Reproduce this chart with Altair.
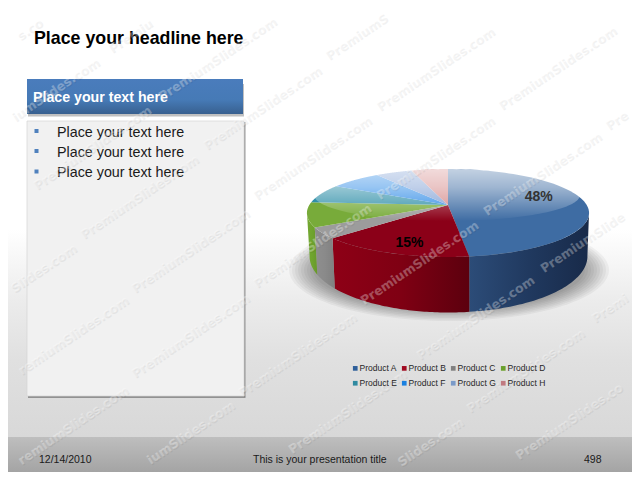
import numpy as np
import pandas as pd
import altair as alt

# ---- chart values
products = ["Product A", "Product B", "Product C", "Product D", "Product E", "Product F", "Product G", "Product H"]
shares = [48, 15, 4, 9, 7, 7, 5, 5]
top_colors = ["#3e6ca3", "#8b0018", "#9c9c9c", "#78ab3a", "#2f8fa8", "#2f8be6", "#7f9fd4", "#d48a8a"]
legend_colors = ["#2f5f9a", "#a00a20", "#808080", "#6aa02c", "#2f8aa0", "#1a80e0", "#7a9ac8", "#c07a80"]
wall_colors = {
    "Product A": ["#2c4c78", "#20395f", "#182a49"],
    "Product B": ["#8e0016", "#7f0013", "#5c000e"],
    "Product C": ["#8f8f8f", "#8a8a8a", "#808080"],
    "Product D": ["#74a832", "#6fa42e", "#68982a"],
}
labelled = {"Product A": ("48%", "#333333", 0.66, -6), "Product B": ("15%", "#000000", 0.72, 5)}

headline = "Place your headline here"
panel_title = "Place your text here"
bullets = ["Place your text here"] * 3
footer_date = "12/14/2010"
footer_title = "This is your presentation title"
footer_page = "498"
watermark = "PremiumSlides.com"
watermark_em = [.733, .493, .678, 1.042, .343, .712, 1.042, .72, .343, .343, .716, .678, .595, .38, .593, .687, 1.042]
watermark_starts = [
    (-63, 92), (-17, 139), (35, 187), (110, 50), (160, 98), (82, 236), (205, 147), (-87, 279), (-40, 325),
    (133, 290), (255, 197), (327, 57), (280, 10), (378, 108), (500, 107), (500, 20), (378, 197), (485, 213),
    (607, 127), (362, 302), (255, 285), (542, 270), (593, 320), (517, 457), (393, 545), (347, 499), (240, 394),
    (418, 357), (468, 410), (12, 377), (133, 375), (12, 467), (118, 482), (290, 451), (173, 537),
]

# ---- shared pixel-like scales (the page margin takes 8px off every side)
L, T, RR, B = 8, 8, 632, 472
X = alt.X("x:Q", scale=alt.Scale(domain=[L, RR], nice=False, zero=False), axis=None)
X2 = alt.X2("x2:Q")
Y = alt.Y("y:Q", scale=alt.Scale(domain=[B, T], nice=False, zero=False), axis=None)
Y2 = alt.Y2("y2:Q")


def vgrad(*stops):
    return alt.Gradient(gradient="linear", x1=0, x2=0, y1=0, y2=1,
                        stops=[alt.GradientStop(offset=o, color=c) for o, c in stops])


def hgrad(cols):
    n = len(cols) - 1
    return alt.Gradient(gradient="linear", x1=0, x2=1, y1=0, y2=0,
                        stops=[alt.GradientStop(offset=i / n, color=c) for i, c in enumerate(cols)])


def box(x, x2, y, y2, **mark):
    d = pd.DataFrame({"x": [x], "x2": [x2], "y": [y], "y2": [y2]})
    return alt.Chart(d).mark_rect(**mark).encode(x=X, x2=X2, y=Y, y2=Y2)


def label(t, x, y, **mark):
    d = pd.DataFrame({"x": [x], "y": [y], "t": [t]})
    mark.setdefault("font", "Liberation Sans")
    mark.setdefault("align", "left")
    mark.setdefault("baseline", "middle")
    return alt.Chart(d).mark_text(**mark).encode(x=X, y=Y, text="t:N")


# ---- tilted pie projection
CX, CY, R, PA, PB = 448.0, 205.0, 138.7, 42.5, 0.1818
SX, SY, BX, BY = 0.985, 1.28, 448.5, 246.0


def top_xy(theta, f=1.0):
    u, v = f * np.sin(theta), f * np.cos(theta)
    d = 1 + PB * v
    return CX + R * u / d, CY - PA * v / d


def bottom_xy(theta):
    x, y = top_xy(theta)
    return BX + SX * (x - CX), BY + SY * (y - CY)


def polygon(xs, ys, **extra):
    d = pd.DataFrame({"x": xs, "y": ys})
    d["i"] = np.arange(len(d))
    for k, v in extra.items():
        d[k] = v
    return d


cum = np.cumsum([0] + shares) / sum(shares) * 2 * np.pi
starts, ends = cum[:-1], cum[1:]

layers = []

# background and footer
layers.append(box(L, RR, T, 437, fill=vgrad((0, "#ffffff"), (0.517, "#ffffff"), (0.68, "#ececec"), (0.82, "#e0e0e0"), (1, "#d8d8d8"))))
layers.append(box(L, RR, 437, B, fill=vgrad((0, "#bebebe"), (1, "#a4a4a4"))))

# panel
layers.append(box(28, 245.5, 122, 398, fill="#808080", opacity=0.8))
layers.append(box(27, 244, 121, 396, fill="#f1f1f1", stroke="#d4d4d4", strokeWidth=0.7))
layers.append(box(28, 244, 84, 116.5, fill="#8c8c8c", opacity=0.55))
layers.append(box(27, 243, 79, 114, fill=vgrad((0, "#4a7cbc"), (0.6, "#467ab6"), (1, "#38608f"))))

# soft pie shadow: nested translucent ellipses
t = np.radians(np.arange(0, 360, 3))
for k in range(9):
    sh = polygon(449 + (160 - 3 * k) * np.cos(t), 270 + (51 - 1.5 * k) * np.sin(t))
    layers.append(alt.Chart(sh).mark_line(filled=True, strokeWidth=0, fill="#000000", opacity=0.045)
                  .encode(x=X, y=Y, order="i:Q"))

# walls, from silhouette to silhouette
for name, a, b in zip(products, starts, ends):
    if name not in wall_colors:
        continue
    lo, hi = max(a, np.radians(100)), min(b, np.radians(260))
    th = np.linspace(lo, hi, 60)
    tx, ty = top_xy(th)
    bx, by = bottom_xy(th)
    d = polygon(np.r_[tx, bx[::-1]], np.r_[ty, by[::-1]])
    layers.append(alt.Chart(d).mark_line(filled=True, strokeWidth=0, fill=hgrad(wall_colors[name])).encode(x=X, y=Y, order="i:Q"))

# top surface, one polygon per product
rows = []
for name, a, b in zip(products, starts, ends):
    th = np.linspace(a, b, 80)
    px, py = top_xy(th)
    rows.append(polygon(np.r_[CX, px], np.r_[CY, py], product=name))
top = pd.concat(rows)
layers.append(alt.Chart(top).mark_line(filled=True, strokeWidth=0).encode(
    x=X, y=Y, order="i:Q",
    color=alt.Color("product:N",
                    scale=alt.Scale(domain=products, range=top_colors),
                    legend=None),
))

# gloss on the back of the pie
t = np.radians(np.arange(0, 360, 2))
gl = polygon(447 + 133 * np.cos(t), 195 + 26 * np.sin(t))
layers.append(alt.Chart(gl).mark_line(filled=True, strokeWidth=0,
    fill=vgrad((0, "#ffffffb0"), (0.35, "#ffffff80"), (1, "#ffffff00"))).encode(x=X, y=Y, order="i:Q"))

# legend carried by a zero-size point layer
leg = pd.DataFrame({"product": products, "x": 360.0, "y": 370.0})
layers.append(alt.Chart(leg).mark_square(size=0, opacity=1).encode(
    x=X, y=Y,
    color=alt.Color("product:N", scale=alt.Scale(domain=products, range=legend_colors),
                    legend=alt.Legend(orient="none", legendX=343, legendY=356, columns=4, title=None,
                                      direction="horizontal",
                                      symbolType="square", symbolSize=22, symbolStrokeWidth=0,
                                      labelFont="Liberation Sans", labelFontSize=8.5, labelColor="#262626",
                                      labelOffset=0, columnPadding=3, rowPadding=6, padding=0)),
))

# percent labels
for name, a, b in zip(products, starts, ends):
    if name in labelled:
        txt, col, f, dy = labelled[name]
        lx, ly = top_xy((a + b) / 2, f)
        layers.append(label(txt, float(lx), float(ly) + dy, fontSize=14, fontWeight="bold", color=col, align="center"))

# slide text
layers.append(label(headline, 34, 38.5, fontSize=17.8, fontWeight="bold", color="#000000"))
layers.append(label(panel_title, 33, 97.5, fontSize=14.2, fontWeight="bold", color="#ffffff"))
for i, b in enumerate(bullets):
    y = 132.5 + i * 20.2
    layers.append(label(b, 57, y, fontSize=14.3, color="#1a1a1a"))
bullet_d = pd.DataFrame({"x": [36.5] * 3, "y": [131.0, 151.0, 171.5]})
layers.append(alt.Chart(bullet_d).mark_square(size=16, color="#4f81bd", opacity=1).encode(x=X, y=Y))
layers.append(label(footer_date, 39, 459.5, fontSize=10.5, color="#1a1a1a"))
layers.append(label(footer_title, 253, 459.5, fontSize=10.5, color="#1a1a1a"))
layers.append(label(footer_page, 584, 459.5, fontSize=10.5, color="#1a1a1a"))

# watermark: each repeat keeps only the letters that fit inside the slide
FS = 12.5
ANG = np.radians(34)
edges = np.r_[0, np.cumsum(watermark_em)] * FS
wm = []
for x0, y0 in watermark_starts:
    xs = x0 + edges * np.cos(ANG)
    ys = y0 - edges * np.sin(ANG)
    ok = [k for k in range(len(watermark))
          if L + 4 < xs[k] and xs[k + 1] + 4 < RR and T + 8 < ys[k + 1] and ys[k] + 8 < B]
    if len(ok) >= 2:
        a, b = ok[0], ok[-1]
        wm.append((xs[a], ys[a], watermark[a:b + 1]))
wmd = pd.DataFrame(wm, columns=["x", "y", "t"])
wms = wmd.assign(x=wmd.x + 1, y=wmd.y + 1)
wm_mark = dict(font="DejaVu Sans", fontWeight="bold", fontSize=FS, angle=326, align="left", baseline="middle")
layers.append(alt.Chart(wms).mark_text(color="#000000", opacity=0.05, **wm_mark).encode(x=X, y=Y, text="t:N"))
layers.append(alt.Chart(wmd).mark_text(color="#ffffff", opacity=0.3, **wm_mark).encode(x=X, y=Y, text="t:N"))

chart = alt.layer(*layers).resolve_scale(color="independent").properties(
    width=RR - L, height=B - T, padding=0, autosize=alt.AutoSizeParams(type="none"),
    background="#ffffff",
).configure_view(stroke=None)

chart.save("out.html", embed_options={"renderer": "svg", "actions": False})
